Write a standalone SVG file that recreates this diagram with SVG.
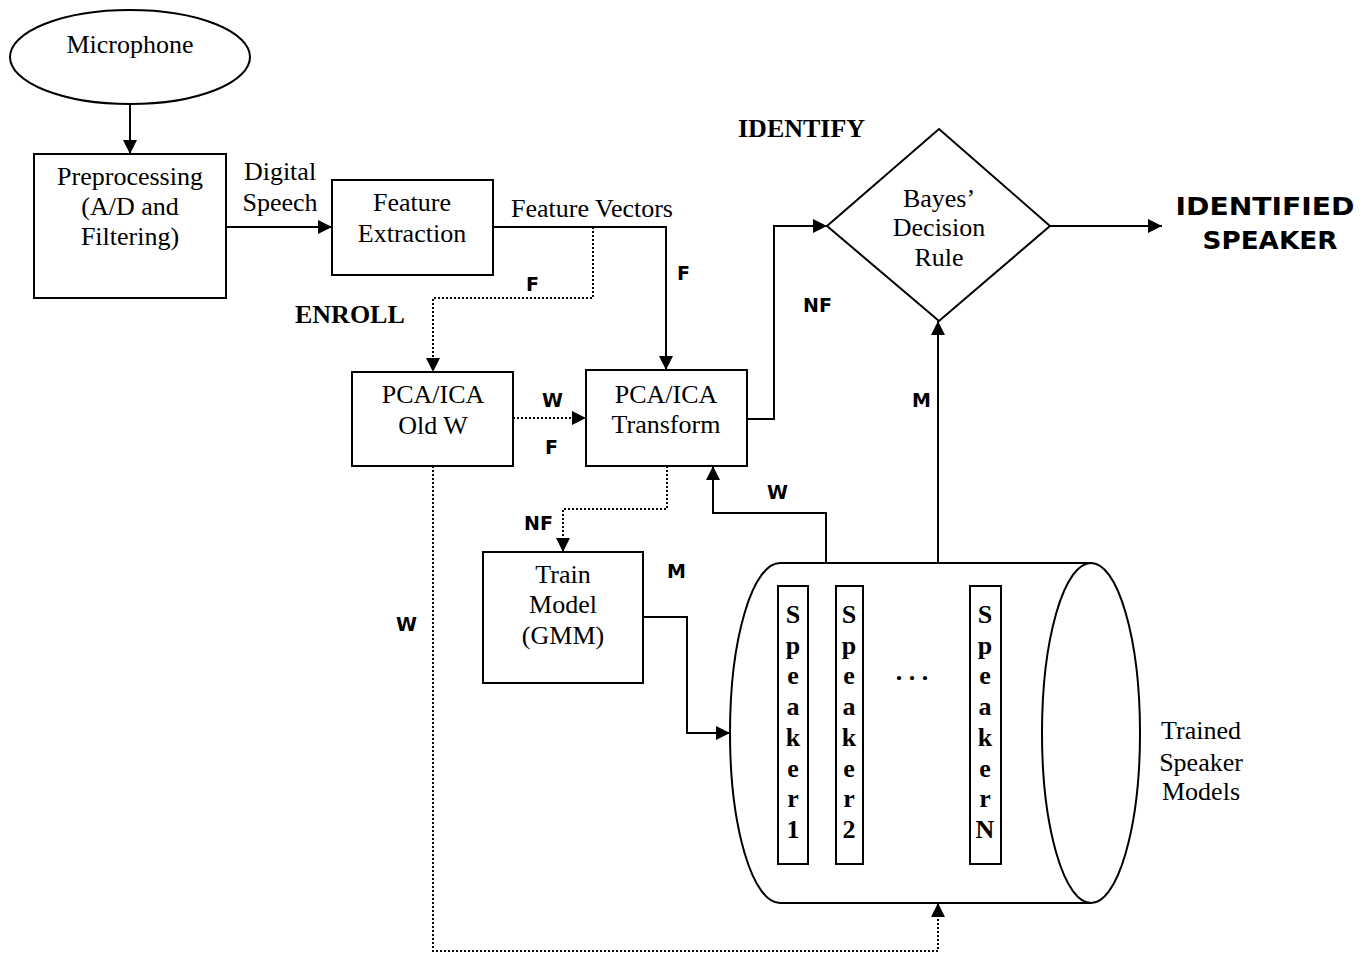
<svg xmlns="http://www.w3.org/2000/svg" width="1372" height="954" viewBox="0 0 1372 954">
<style>
.box{fill:#fff;stroke:#000;stroke-width:2}
.ln{fill:none;stroke:#000;stroke-width:2}
.dot{fill:none;stroke:#000;stroke-width:2;stroke-dasharray:2 2}
.t{font-family:"Liberation Serif","Times New Roman",serif;font-size:26px;fill:#000;text-anchor:middle}
.tb{font-family:"Liberation Serif","Times New Roman",serif;font-size:26px;font-weight:bold;fill:#000}
.sp{font-family:"Liberation Serif","Times New Roman",serif;font-size:26px;font-weight:bold;fill:#000;text-anchor:middle}
.lb{font-family:"DejaVu Sans",Verdana,sans-serif;font-size:19px;font-weight:bold;fill:#000}
.big{font-family:"DejaVu Sans",Verdana,sans-serif;font-size:24px;font-weight:bold;fill:#000;text-anchor:middle}
</style>
<defs>
<marker id="ah" markerUnits="userSpaceOnUse" markerWidth="16" markerHeight="16" refX="14" refY="7" orient="auto">
<path d="M0,0 L14,7 L0,14 z" fill="#000"/>
</marker>
</defs>
<rect width="1372" height="954" fill="#fff"/>

<g id="connectors">
<path class="ln" d="M130,104 V154" marker-end="url(#ah)"/>
<path class="ln" d="M226,227 H332" marker-end="url(#ah)"/>
<path class="ln" d="M493,227 H666 V370" marker-end="url(#ah)"/>
<path class="dot" d="M593,227 V298 H433 V372" marker-end="url(#ah)"/>
<path class="dot" d="M513,418 H586" marker-end="url(#ah)"/>
<path class="ln" d="M747,419 H774 V226 H827" marker-end="url(#ah)"/>
<path class="ln" d="M1050,226 H1162" marker-end="url(#ah)"/>
<path class="dot" d="M667,466 V509 H563 V552" marker-end="url(#ah)"/>
<path class="ln" d="M643,617 H687 V733 H730" marker-end="url(#ah)"/>
<path class="ln" d="M826,563 V513 H713 V466" marker-end="url(#ah)"/>
<path class="ln" d="M938,563 V321" marker-end="url(#ah)"/>
<path class="dot" d="M433,466 V951 H938 V903" marker-end="url(#ah)"/>
</g>

<g id="microphone">
<ellipse class="box" cx="130" cy="57" rx="120" ry="47"/>
<text class="t" x="130" y="53">Microphone</text>
</g>

<g id="preprocessing">
<rect class="box" x="34" y="154" width="192" height="144"/>
<text class="t" x="130" y="185">Preprocessing</text>
<text class="t" x="130" y="215">(A/D and</text>
<text class="t" x="130" y="245">Filtering)</text>
</g>

<g id="digital-speech-label">
<text class="t" x="280" y="180">Digital</text>
<text class="t" x="280" y="211">Speech</text>
</g>

<g id="feature-extraction">
<rect class="box" x="332" y="180" width="161" height="95"/>
<text class="t" x="412" y="211">Feature</text>
<text class="t" x="412" y="242">Extraction</text>
</g>

<g id="feature-vectors-label">
<text class="t" x="592" y="217">Feature Vectors</text>
</g>

<g id="mode-labels">
<text class="tb" x="738" y="137">IDENTIFY</text>
<text class="tb" x="295" y="323">ENROLL</text>
</g>

<g id="pca-old-w">
<rect class="box" x="352" y="372" width="161" height="94"/>
<text class="t" x="433" y="403">PCA/ICA</text>
<text class="t" x="433" y="434">Old W</text>
</g>

<g id="pca-transform">
<rect class="box" x="586" y="370" width="161" height="96"/>
<text class="t" x="666" y="403">PCA/ICA</text>
<text class="t" x="666" y="433">Transform</text>
</g>

<g id="bayes">
<polygon class="box" points="939,129 1050,226 939,321 827,226"/>
<text class="t" x="939" y="207">Bayes’</text>
<text class="t" x="939" y="236">Decision</text>
<text class="t" x="939" y="266">Rule</text>
</g>

<g id="identified-speaker">
<text class="big" x="1265" y="215" textLength="179" lengthAdjust="spacingAndGlyphs">IDENTIFIED</text>
<text class="big" x="1270" y="249" textLength="135" lengthAdjust="spacingAndGlyphs">SPEAKER</text>
</g>

<g id="train-model">
<rect class="box" x="483" y="552" width="160" height="131"/>
<text class="t" x="563" y="583">Train</text>
<text class="t" x="563" y="613">Model</text>
<text class="t" x="563" y="644">(GMM)</text>
</g>

<g id="speaker-models">
<path class="box" d="M1091,563 H780 A50,170 0 0 0 780,903 H1091"/>
<ellipse class="box" cx="1091" cy="733" rx="49" ry="170"/>
<rect class="box" x="778" y="586" width="30" height="278"/>
<rect class="box" x="836" y="586" width="27" height="278"/>
<rect class="box" x="970" y="586" width="31" height="278"/>
<text class="sp" x="793"><tspan x="793" y="623">S</tspan><tspan x="793" y="654">p</tspan><tspan x="793" y="684">e</tspan><tspan x="793" y="715">a</tspan><tspan x="793" y="746">k</tspan><tspan x="793" y="777">e</tspan><tspan x="793" y="807">r</tspan><tspan x="793" y="838">1</tspan></text>
<text class="sp" x="849"><tspan x="849" y="623">S</tspan><tspan x="849" y="654">p</tspan><tspan x="849" y="684">e</tspan><tspan x="849" y="715">a</tspan><tspan x="849" y="746">k</tspan><tspan x="849" y="777">e</tspan><tspan x="849" y="807">r</tspan><tspan x="849" y="838">2</tspan></text>
<text class="sp" x="985"><tspan x="985" y="623">S</tspan><tspan x="985" y="654">p</tspan><tspan x="985" y="684">e</tspan><tspan x="985" y="715">a</tspan><tspan x="985" y="746">k</tspan><tspan x="985" y="777">e</tspan><tspan x="985" y="807">r</tspan><tspan x="985" y="838">N</tspan></text>
<text class="sp" x="912" y="680">. . .</text>
<text class="t" x="1201" y="739">Trained</text>
<text class="t" x="1201" y="771">Speaker</text>
<text class="t" x="1201" y="800">Models</text>
</g>

<g id="connector-labels">
<text class="lb" x="526" y="291">F</text>
<text class="lb" x="677" y="280">F</text>
<text class="lb" x="803" y="312">NF</text>
<text class="lb" x="542" y="407">W</text>
<text class="lb" x="545" y="454">F</text>
<text class="lb" x="524" y="530">NF</text>
<text class="lb" x="667" y="578">M</text>
<text class="lb" x="396" y="631">W</text>
<text class="lb" x="767" y="499">W</text>
<text class="lb" x="912" y="407">M</text>
</g>
</svg>
